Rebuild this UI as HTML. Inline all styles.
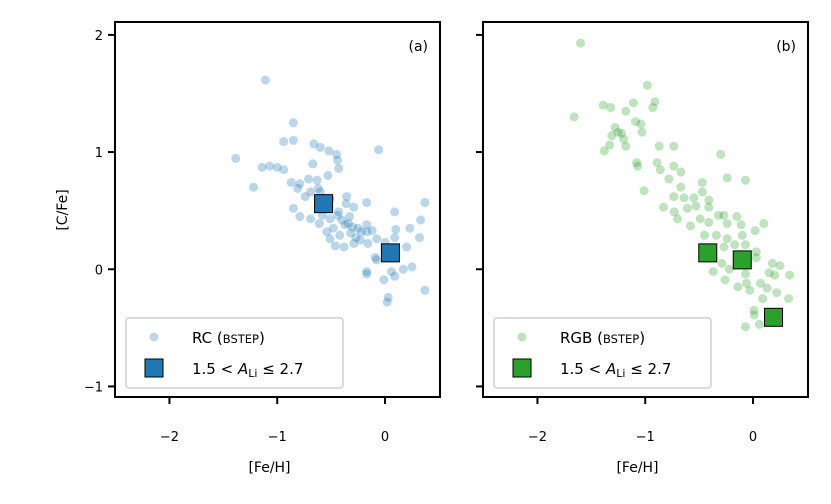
<!DOCTYPE html>
<html><head><meta charset="utf-8"><style>
html,body{margin:0;padding:0;background:#fff;}
svg{display:block;font-family:"DejaVu Sans","Liberation Sans",sans-serif;}
</style></head><body>
<svg id="chart" width="831" height="504" viewBox="0 0 831 504" xmlns="http://www.w3.org/2000/svg">
<g id="panelA"></g>
<g id="panelB"></g>
</svg>
<script>
const xTicks=[-2,-1,0];
const yTicks=[2,1,0,-1];
const yTickLabels=["2","1","0","\u22121"];
const xTickLabels=["\u22122","\u22121","0"];
const rcFe=[-1.11,-0.85,-0.94,-0.85,-1.385,-1.14,-1.07,-1.00,-0.94,-1.22,-0.66,-0.60,-0.52,-0.45,-0.44,-0.43,-0.06,-0.67,-0.53,-0.71,-0.63,-0.87,-0.79,-0.81,-0.62,-0.74,-0.69,-0.85,-0.79,-0.69,-0.60,-0.51,-0.356,-0.36,-0.43,-0.29,-0.17,-0.58,-0.51,-0.61,-0.54,-0.48,-0.40,-0.33,-0.37,-0.30,-0.32,-0.27,-0.22,-0.17,-0.17,-0.12,-0.16,-0.077,0.00,-0.51,-0.46,-0.38,-0.29,-0.23,-0.09,-0.08,-0.17,-0.17,-0.01,0.06,0.09,0.17,0.25,0.20,0.09,0.10,0.09,0.23,0.32,0.33,0.37,0.37,0.03,0.02,-0.44,-0.34,-0.42,-0.25];
const rcC=[1.615,1.25,1.09,1.10,0.946,0.87,0.88,0.87,0.85,0.70,1.07,1.04,1.01,0.98,0.93,0.86,1.02,0.90,0.80,0.77,0.76,0.74,0.73,0.69,0.69,0.62,0.66,0.52,0.45,0.43,0.66,0.60,0.62,0.56,0.49,0.53,0.57,0.46,0.43,0.39,0.32,0.35,0.42,0.45,0.38,0.36,0.31,0.27,0.32,0.38,0.32,0.33,0.22,0.26,0.23,0.26,0.20,0.19,0.22,0.25,0.10,0.08,-0.02,-0.04,-0.09,-0.02,-0.06,0.00,0.02,0.19,0.49,0.34,0.27,0.35,0.27,0.42,0.57,-0.18,-0.24,-0.28,0.46,0.39,0.29,0.35];
const rcLiFe=[-0.57,0.05];
const rcLiC=[0.56,0.14];
const rgbFe=[-1.60,-1.66,-0.98,-1.39,-1.32,-1.11,-1.18,-0.91,-0.93,-1.09,-1.04,-1.03,-1.28,-1.25,-1.22,-1.31,-1.20,-1.33,-1.18,-1.38,-0.87,-0.735,-1.08,-1.07,-0.89,-0.86,-0.735,-0.67,-0.78,-1.01,-0.30,-0.24,-0.07,-0.47,-0.67,-0.47,-0.735,-0.64,-0.55,-0.41,-0.83,-0.73,-0.61,-0.53,-0.41,-0.32,-0.27,-0.15,-0.70,-0.58,-0.49,-0.41,-0.24,-0.11,0.02,0.10,-0.45,-0.34,-0.24,-0.10,-0.27,-0.17,-0.07,0.03,0.03,-0.29,-0.22,-0.07,-0.37,-0.26,-0.14,-0.06,-0.03,0.07,0.13,0.15,0.18,0.25,0.20,0.34,0.22,0.33,0.09,0.01,0.01,0.06,-0.07];
const rgbC=[1.93,1.30,1.57,1.40,1.38,1.42,1.35,1.43,1.38,1.26,1.24,1.17,1.21,1.17,1.16,1.14,1.11,1.06,1.05,1.01,1.05,1.05,0.91,0.88,0.91,0.85,0.88,0.83,0.77,0.67,0.98,0.78,0.76,0.74,0.70,0.66,0.62,0.61,0.61,0.59,0.53,0.49,0.52,0.54,0.53,0.46,0.46,0.45,0.43,0.37,0.43,0.40,0.39,0.38,0.33,0.39,0.29,0.29,0.26,0.29,0.19,0.21,0.21,0.15,0.10,0.05,0.00,-0.04,-0.02,-0.09,-0.15,-0.12,-0.18,-0.12,-0.16,-0.03,0.05,0.03,-0.05,-0.05,-0.20,-0.25,-0.25,-0.35,-0.39,-0.47,-0.49];
const rgbLiFe=[-0.42,-0.10,0.19];
const rgbLiC=[0.14,0.08,-0.41];

const NS="http://www.w3.org/2000/svg";
const plotTop=22,plotBot=397,W=325;
const xMin=-2.505,xMax=0.51,yMin=-1.09,yMax=2.11;
function mk(tag,attrs,parent){const e=document.createElementNS(NS,tag);for(const k in attrs)e.setAttribute(k,attrs[k]);parent.appendChild(e);return e;}
function drawPanel(g,left,fe,c,liFe,liC,color,label,legendName,showY){
  const sx=v=>left+(v-xMin)/(xMax-xMin)*W;
  const sy=v=>plotBot-(v-yMin)/(yMax-yMin)*(plotBot-plotTop);
  for(let i=0;i<fe.length;i++){
    const p=mk('circle',{cx:sx(fe[i]),cy:sy(c[i]),r:4.5,fill:color,'fill-opacity':0.3},g);
    
    
  }
  for(let i=0;i<liFe.length;i++){
    const s=mk('rect',{x:sx(liFe[i])-9,y:sy(liC[i])-9,width:18,height:18,fill:color,stroke:'#000','stroke-width':1},g);
    
    
  }
  const f=mk('rect',{x:left,y:plotTop,width:W,height:plotBot-plotTop,fill:'none',stroke:'#000','stroke-width':2},g);
  
  
  xTicks.forEach((t,i)=>{
    mk('line',{x1:sx(t),x2:sx(t),y1:plotBot,y2:plotBot+7,stroke:'#000','stroke-width':2},g);
    const tl=mk('text',{x:sx(t),y:plotBot+44,'text-anchor':'middle','font-size':13},g);
    tl.textContent=xTickLabels[i];
    
    
  });
  yTicks.forEach((t,i)=>{
    mk('line',{x1:left-7,x2:left,y1:sy(t),y2:sy(t),stroke:'#000','stroke-width':2},g);
    if(showY){
      const tl=mk('text',{x:left-12,y:sy(t)+5,'text-anchor':'end','font-size':13},g);
      tl.textContent=yTickLabels[i];
      
      
    }
  });
  const xt=mk('text',{x:left+W/2-8,y:472,'text-anchor':'middle','font-size':14},g);
  xt.textContent='[Fe/H]';
  
  
  const pl=mk('text',{x:left+W-12,y:51,'text-anchor':'end','font-size':14},g);
  pl.textContent=label;
  
  
  const lg=mk('g',{},g);
  
  
  mk('rect',{x:left+11,y:318,width:217,height:70,rx:3,fill:'#fff','fill-opacity':0.8,stroke:'#d0d0d0','stroke-width':1.5},lg);
  mk('circle',{cx:left+39,cy:337,r:4.5,fill:color,'fill-opacity':0.3},lg);
  const t1=mk('text',{x:left+77,y:343,'font-size':15},lg);
  t1.innerHTML=legendName+' (<tspan font-size="11.5">BSTEP</tspan>)';
  
  
  mk('rect',{x:left+30,y:359,width:18,height:18,fill:color,stroke:'#000','stroke-width':1},lg);
  const t2=mk('text',{x:left+77,y:374,'font-size':15},lg);
  t2.innerHTML='1.5 &lt; <tspan font-style="italic">A</tspan><tspan font-size="11" dy="3">Li</tspan><tspan dy="-3"> \u2264 2.7</tspan>';
  
  
}
drawPanel(document.getElementById('panelA'),115,rcFe,rcC,rcLiFe,rcLiC,'#1f77b4','(a)','RC',true);
drawPanel(document.getElementById('panelB'),483,rgbFe,rgbC,rgbLiFe,rgbLiC,'#2ca02c','(b)','RGB',false);
const svg=document.getElementById('chart');
const yt=mk('text',{x:0,y:0,'text-anchor':'middle','font-size':14,transform:'translate(67,210) rotate(-90)'},svg);
yt.textContent='[C/Fe]';


</script>
</body></html>
